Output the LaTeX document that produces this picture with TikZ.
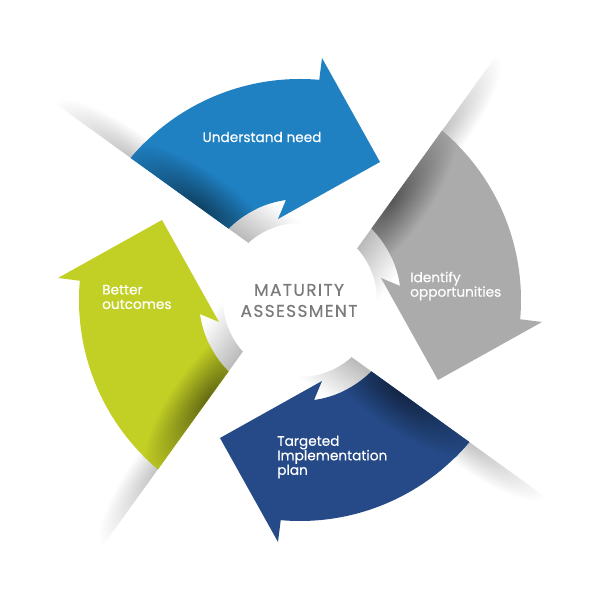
\documentclass[tikz,border=0pt]{standalone}
\usepackage{fontspec}
\setmainfont{Poppins}
\newfontfamily\lblfont{Poppins}[FakeBold=0.35]
\newfontfamily\ctrfont{Poppins}[LetterSpace=8,FakeBold=0.3]
\definecolor{cblue}{RGB}{31,128,194}
\definecolor{cgray}{RGB}{171,171,171}
\definecolor{cnavy}{RGB}{37,74,135}
\definecolor{cgreen}{RGB}{194,207,36}
\definecolor{ctext}{RGB}{122,122,122}
\tikzset{
  lbl/.style={text=white, font=\lblfont\fontsize{13.7}{14.5}\selectfont, inner sep=0pt, align=left},
  ctr/.style={text=ctext, font=\ctrfont\fontsize{17}{21}\selectfont, inner sep=0pt, align=center},
  tailframe/.style={transform canvas={shift={(135:101)}, rotate=144.18}}
}
\def\arrowpath{(140:221) arc[start angle=140, end angle=85, radius=221] -- (22,242) -- (80,138) -- (-22,81) -- (98:101) arc[start angle=98, end angle=135, radius=101] -- cycle}
\begin{document}
\begin{tikzpicture}[x=1pt,y=1pt]
\useasboundingbox (-300,-293) rectangle (300,300);
\fill[white] (-300,-293) rectangle (300,300);
% shadows and folds
\foreach \k in {0,1,2,3}{
  \begin{scope}[transform canvas={rotate=-90*\k}]
    \begin{scope}[tailframe]
      \begin{scope}
        \clip (105,-40) rectangle (240,0);
        \shade[inner color=black!24, outer color=white] (120.7,0) ellipse [x radius=95, y radius=26];
      \end{scope}
    \end{scope}
    \begin{scope}
      \clip (0:101) arc[start angle=0, end angle=360, radius=101] -- (0:77) arc[start angle=360, end angle=0, radius=77] -- cycle;
      \begin{scope}[tailframe]
        \clip (-70,-80) rectangle (3,0);
        \shade[top color=black!27, bottom color=white] (-70,-48) rectangle (3,0);
      \end{scope}
    \end{scope}
  \end{scope}
}
% arrows
\foreach \k/\col in {0/cblue,1/cgray,2/cnavy,3/cgreen}{
  \begin{scope}[transform canvas={rotate=-90*\k}]
    \fill[\col] \arrowpath;
    \begin{scope}
      \clip \arrowpath;
      \begin{scope}[tailframe]
        \shade[inner color=\col!50!black, outer color=\col] (35,0) ellipse [x radius=100, y radius=36];
      \end{scope}
    \end{scope}
  \end{scope}
}
% labels
\node[lbl, anchor=center, align=center] (t1) at (-38,163) {Understand need};
\node[lbl, anchor=west] (t2) at (110,14) {Identify\\opportunities};
\node[lbl, anchor=west] (t3) at (-23,-157) {Targeted\\Implementation\\plan};
\node[lbl, anchor=west] (t4) at (-198,3) {Better\\outcomes};
\node[ctr] (c) at (-1,-0.5) {MATURITY\\ASSESSMENT};
\end{tikzpicture}
\end{document}
